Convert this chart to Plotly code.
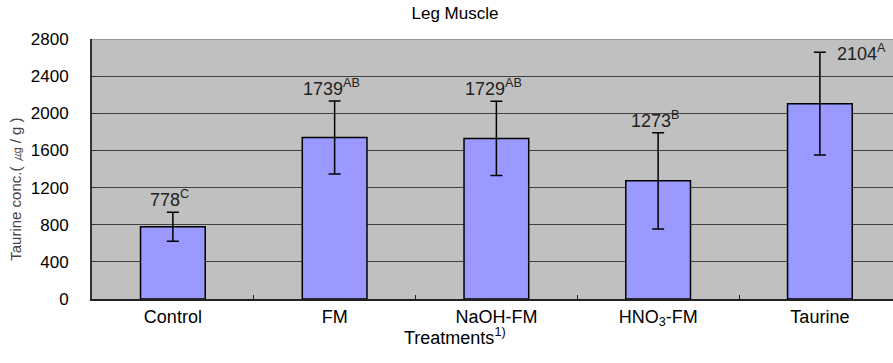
import plotly.graph_objects as go

categories = ["Control", "FM", "NaOH-FM", "HNO<sub>3</sub>-FM", "Taurine"]
values = [778, 1739, 1729, 1273, 2104]
errors = [155, 393, 400, 518, 553]
letters = ["C", "AB", "AB", "B", "A"]
y_ticks = [0, 400, 800, 1200, 1600, 2000, 2400, 2800]

FONT = "Liberation Sans, Arial, sans-serif"

fig = go.Figure()
fig.add_trace(go.Bar(
    x=categories, y=values,
    marker=dict(color="#9999FF", line=dict(color="black", width=1.5)),
    error_y=dict(type="data", array=errors, visible=True, color="black",
                 thickness=1.5, width=6),
    width=0.4,
))

# value labels
for i, (c, v, e, l) in enumerate(zip(categories, values, errors, letters)):
    txt = f"{v}<sup>{l}</sup>"
    if i == len(categories) - 1:
        fig.add_annotation(x=c, y=v + e, text=txt, showarrow=False,
                           xanchor="left", yanchor="middle", xshift=15,
                           font=dict(family=FONT, size=18, color="#222"))
    else:
        fig.add_annotation(x=c, y=v + e, text=txt, showarrow=False,
                           xanchor="center", yanchor="bottom", yshift=0, xshift=-3,
                           font=dict(family=FONT, size=18, color="#222"))

# top border of plot area
fig.add_shape(type="line", xref="x domain", yref="y", x0=0, x1=1, y0=2800, y1=2800,
              line=dict(color="#8a8a8a", width=1.5))

# axis titles
fig.add_annotation(xref="paper", yref="paper", x=0.4532, y=0, yanchor="middle",
                   yshift=-37, text="Treatments<sup>1)</sup>", showarrow=False,
                   font=dict(family=FONT, size=18, color="black"))
fig.add_annotation(xref="paper", yref="paper", x=0, y=0.42, xanchor="center",
                   xshift=-76, textangle=-90, text="Taurine conc.( ㎍ / g )",
                   showarrow=False, font=dict(family=FONT, size=15, color="#444"))

fig.update_layout(
    width=893, height=363,
    margin=dict(l=92, r=0, t=39, b=64),
    paper_bgcolor="white", plot_bgcolor="#C0C0C0",
    showlegend=False,
    bargap=0.6,
    title=dict(text="Leg Muscle", x=455 / 893, xanchor="center",
               y=1 - 13 / 363, yanchor="middle",
               font=dict(family=FONT, size=17, color="black")),
    font=dict(family=FONT, size=17, color="black"),
)
fig.update_xaxes(
    range=[-0.5, 4.452], showgrid=False, showline=True, linecolor="#222", linewidth=2,
    ticks="inside", tickson="boundaries", ticklen=4, tickcolor="#222",
    tickfont=dict(family=FONT, size=18, color="black"), ticklabelstandoff=0,
    fixedrange=True, automargin=False,
)
fig.update_yaxes(
    range=[0, 2800], tickvals=y_ticks, showgrid=True, gridcolor="#404040", gridwidth=1,
    showline=True, linecolor="#333", linewidth=2, ticks="inside", ticklen=5,
    tickcolor="#333", tickfont=dict(family=FONT, size=17, color="black"),
    ticklabelstandoff=18, zeroline=False, fixedrange=True, automargin=False,
)

fig.write_html("out.html", config={"displayModeBar": False},
               post_script="document.body.style.margin='0';")
